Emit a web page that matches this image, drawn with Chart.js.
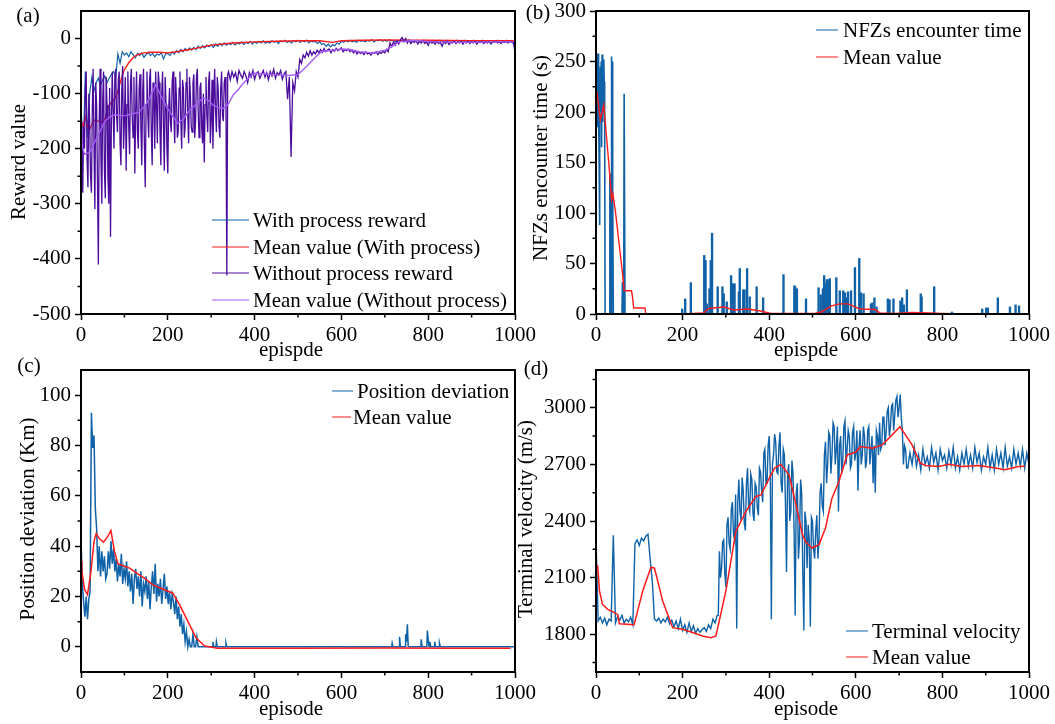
<!DOCTYPE html>
<html>
<head>
<meta charset="utf-8">
<script src="https://cdn.jsdelivr.net/npm/chart.js@4.4.1/dist/chart.umd.min.js"></script>
<style>
  html, body { margin: 0; padding: 0; background: #fff; }
  body { width: 1055px; height: 724px; position: relative; overflow: hidden;
         font-family: 'Liberation Serif', 'Times New Roman', serif; font-size: 21px; color: #000; }
  canvas { position: absolute; }
  .t  { position: absolute; white-space: nowrap; line-height: 1; transform: translate(-50%, -50%); }
  .r  { position: absolute; white-space: nowrap; line-height: 1; transform: translate(-50%, -50%) rotate(-90deg); }
  .lg { position: absolute; white-space: nowrap; line-height: 1; transform: translateY(-50%); }
  .ln { position: absolute; height: 0; border-top: 1.6px solid; transform: translateY(-50%); }
</style>
</head>
<body>
<canvas id="chartA" width="555" height="372" style="left:0;top:-10px"></canvas>
<canvas id="chartB" width="535" height="372" style="left:520px;top:-10px"></canvas>
<canvas id="chartC" width="555" height="379" style="left:0;top:345px"></canvas>
<canvas id="chartD" width="535" height="379" style="left:520px;top:345px"></canvas>

<!-- panel letters -->
<div class="t" style="left:28px;top:15px">(a)</div>
<div class="t" style="left:538px;top:12px">(b)</div>
<div class="t" style="left:29px;top:365px">(c)</div>
<div class="t" style="left:536px;top:368px">(d)</div>

<!-- axis titles -->
<div class="r" style="left:18px;top:162px">Reward value</div>
<div class="r" style="left:540px;top:158px">NFZs encounter time (s)</div>
<div class="r" style="left:27px;top:519px">Position deviation (Km)</div>
<div class="r" style="left:525px;top:519px">Terminal velocity (m/s)</div>
<div class="t" style="left:291px;top:349px">epispde</div>
<div class="t" style="left:806px;top:349px">epispde</div>
<div class="t" style="left:291px;top:708px">episode</div>
<div class="t" style="left:806px;top:708px">episode</div>

<!-- legends -->
<div class="ln" style="left:212px;top:220px;width:37px;border-color:#0f62a8"></div>
<div class="lg" style="left:253px;top:220px">With process reward</div>
<div class="ln" style="left:212px;top:247px;width:37px;border-color:#ff1a1a"></div>
<div class="lg" style="left:253px;top:247px">Mean value (With process)</div>
<div class="ln" style="left:212px;top:273px;width:37px;border-color:#4b0c9c"></div>
<div class="lg" style="left:253px;top:273px">Without process reward</div>
<div class="ln" style="left:212px;top:300px;width:37px;border-color:#a55cf7"></div>
<div class="lg" style="left:253px;top:300px">Mean value (Without process)</div>

<div class="ln" style="left:816px;top:30px;width:22px;border-color:#0f62a8"></div>
<div class="lg" style="left:843px;top:30px">NFZs encounter time</div>
<div class="ln" style="left:816px;top:57px;width:22px;border-color:#ff1a1a"></div>
<div class="lg" style="left:843px;top:57px">Mean value</div>

<div class="ln" style="left:332px;top:391px;width:21px;border-color:#0f62a8"></div>
<div class="lg" style="left:357px;top:391px">Position deviation</div>
<div class="ln" style="left:332px;top:417px;width:19px;border-color:#ff1a1a"></div>
<div class="lg" style="left:353px;top:417px">Mean value</div>

<div class="ln" style="left:846px;top:631px;width:22px;border-color:#0f62a8"></div>
<div class="lg" style="left:872px;top:631px">Terminal velocity</div>
<div class="ln" style="left:846px;top:657px;width:22px;border-color:#ff1a1a"></div>
<div class="lg" style="left:872px;top:657px">Mean value</div>

<script>
// ── Data ───────────────────────────────────────────────────────────────────

const xMajor = [0, 200, 400, 600, 800, 1000];
const xMinor = [100, 300, 500, 700, 900];

// (a) reward, with process reward: one value every 5 episodes from 0
const aWithValues = [
  -120,-210,-60,-180,-100,-70,-95,-80,-72,-85,
  -75,-68,-80,-72,-65,-60,-70,-28,-45,-24,
  -30,-26,-33,-24,-29,-35,-27,-31,-26,-34,
  -29,-25,-31,-27,-33,-28,-30,-26,-37,-28,
  -27,-31,-24,-28,-22,-26,-20,-24,-18,-22,
  -17,-21,-16,-20,-14,-18,-13,-17,-12,-15,
  -11,-16,-10,-14,-9,-13,-8,-12,-9,-11,
  -7,-12,-8,-10,-6,-11,-7,-9,-5,-10,
  -6,-9,-5,-8,-4,-9,-6,-8,-4,-7,
  -5,-9,-4,-6,-3,-7,-5,-8,-4,-6,
  -3,-7,-4,-6,-3,-8,-4,-6,-5,-9,
  -6,-11,-9,-14,-10,-15,-11,-13,-8,-10,
  -5,-7,-4,-6,-3,-6,-4,-7,-3,-5,
  -4,-6,-3,-5,-2,-6,-3,-4,-2,-5,
  -3,-5,-2,-4,-3,-6,-4,-5,-3,-6,
  -4,-3,-7,-4,-5,-3,-6,-4,-5,-3,
  -6,-4,-8,-4,-5,-3,-6,-4,-7,-3,
  -5,-4,-6,-3,-5,-4,-7,-3,-5,-4,
  -6,-3,-5,-4,-7,-3,-6,-4,-5,-10,
  -4,-6,-3,-5,-4,-7,-3,-6,-4,-8,
  -5
];
// (a) reward, without process reward: every 2 episodes for 0..340, then every 4 for 344..1000
const aWithoutEarly = [
  -150,-230,-280,-160,-200,-90,-60,-220,-270,-100,
  -150,-250,-280,-130,-55,-200,-310,-80,-120,-260,
  -410,-150,-55,-220,-300,-110,-60,-240,-290,-70,
  -120,-250,-300,-90,-360,-150,-60,-130,-200,-70,
  -55,-140,-170,-75,-60,-190,-230,-90,-50,-200,
  -150,-70,-240,-120,-60,-160,-210,-80,-55,-140,
  -180,-70,-245,-130,-60,-170,-200,-90,-65,-160,
  -230,-100,-55,-190,-270,-120,-60,-140,-180,-75,
  -55,-170,-230,-80,-110,-200,-60,-120,-190,-60,
  -80,-170,-230,-100,-60,-160,-240,-70,-120,-200,
  -245,-130,-90,-150,-170,-80,-60,-140,-190,-70,
  -110,-180,-170,-90,-60,-150,-200,-75,-90,-180,
  -160,-80,-55,-140,-190,-70,-100,-160,-170,-80,
  -65,-180,-150,-70,-55,-130,-180,-90,-80,-160,
  -190,-100,-225,-120,-70,-140,-170,-80,-60,-190,
  -150,-75,-200,-110,-55,-130,-170,-70,-90,-160,
  -180,-90,-60,-140,-150,-80,-70,-120,-430,-65,
  -60
];
const aWithoutLate = [
  -75,-60,-70,-62,
  -78,-58,-66,-72,-60,-68,-80,-62,-70,-58,
  -74,-64,-60,-72,-65,-58,-70,-62,-75,-60,
  -68,-56,-72,-62,-66,-58,-74,-64,-60,-110,
  -70,-215,-80,-95,-60,-70,-38,-45,-30,-35,
  -25,-32,-22,-30,-24,-28,-21,-26,-20,-25,
  -18,-24,-21,-19,-26,-20,-23,-18,-22,-20,
  -17,-24,-20,-22,-19,-24,-21,-26,-22,-28,
  -24,-27,-25,-29,-24,-28,-26,-30,-25,-27,
  -24,-29,-25,-27,-23,-26,-20,-24,-8,-15,
  -6,-12,-4,-10,-2,2,-5,0,-8,-3,
  -9,-5,-7,-4,-10,-5,-8,-4,-9,-6,
  -12,-5,-8,-6,-10,-5,-9,-7,-14,-6,
  -9,-5,-11,-7,-8,-5,-9,-6,-8,-5,
  -10,-6,-8,-5,-9,-6,-8,-5,-10,-6,
  -7,-5,-9,-6,-8,-5,-9,-6,-7,-5,
  -8,-6,-9,-5,-7,-6,-8,-5,-7,-6,
  -25
];
const aWithMeanEp  = [0,5,10,15,20,30,40,50,56,63,70,79,85,91,99,110,122,135,146,160,180,200,220,250,275,300,350,400,450,500,550,580,600,650,700,750,800,900,1000];
const aWithMeanVal = [-150,-160,-142,-160,-165,-148,-150,-152,-145,-124,-116,-108,-95,-78,-58,-44,-33,-28,-26,-25,-25,-26,-24,-20,-16,-12,-8,-6,-5,-4,-4,-7,-4,-3,-2.5,-3,-3,-4,-4];
const aWithoutMeanEp  = [0,3,8,15,22,30,40,55,65,79,90,102,120,133,149,160,172,185,195,210,223,237,250,265,281,295,304,316,328,340,351,363,374,386,398,420,450,480,500,510,523,540,554,580,601,620,640,671,702,715,733,764,810,872,950,1000];
const aWithoutMeanVal = [-130,-195,-210,-208,-205,-190,-175,-150,-143,-138,-140,-140,-136,-134,-121,-105,-84,-105,-121,-140,-154,-145,-130,-120,-108,-113,-121,-125,-127,-118,-102,-92,-81,-72,-63,-64,-66,-67,-65,-58,-48,-34,-24,-21,-19,-20,-24,-26,-21,-15,-6,-3.5,-5.5,-7,-6,-6];

// (b) NFZs encounter time
const bEarlyEp  = [0,1,2,3,4,5,6,7,8,9,10,11,12,13,14,15,16,17,18,19,20,21,31,32,34,35,36,37,38,39,40,60,61,63,64,65,66,67];
const bEarlyVal = [210,258,190,255,185,258,200,160,88,210,245,200,250,165,257,190,228,200,252,230,190,0,0,138,138,0,255,220,250,125,0,0,31,31,0,218,218,0];
const bSpikeEp  = [199,206,219,250,253,256,262,265,268,281,292,295,302,312,316,320,330,332,340,343,349,355,371,386,433,458,460,464,485,514,519,524,527,530,533,536,540,555,563,571,575,578,582,589,598,608,612,618,635,638,643,648,674,678,687,703,707,711,718,750,752,781,822,892,901,905,928,956,969,977];
const bSpikeVal = [5,15,31,58,53,10,25,53,80,27,27,20,12,38,30,30,22,45,24,24,45,17,27,16,39,28,27,25,15,26,19,25,38,30,34,34,35,36,23,23,21,16,22,23,46,55,21,20,10,11,16,7,15,14,15,13,16,9,24,20,17,27,2,5,6,6,16,7,9,8];
const bMeanEp  = [2,10,18,24,30,36,39,45,53,61,65,82,84,87,113,115,200,248,260,295,318,349,380,404,458,505,520,544,563,582,598,610,645,656,691,730,769,800,847,1000];
const bMeanVal = [220,192,207,177,147,113,119,101,71,41,23,23,18,6,6,0,0,1,5.5,7,4,5,3,0.5,0.5,0.5,2,8,10,10,7,5,4.5,1,0.5,1.5,1,0.5,0,0];

// (c) position deviation: every 3 episodes for 0..300, then the sparse tail
const cDevValues = [
  43,25,18,12,20,11,19,22,93,79,
  84,55,47,30,40,28,38,30,36,27,
  29,38,31,42,33,39,30,35,26,33,
  28,37,25,31,27,34,24,30,22,29,
  17,27,31,23,28,20,30,16,25,22,
  28,19,26,15,24,30,21,33,18,25,
  20,27,17,23,29,19,24,17,22,15,
  21,18,13,20,11,16,8,13,5,9,
  2,6,0,3,0,0,5,0,0,4,
  0,0,0,0,0,0,0,0,0,0,
  0
];
const cDevTailEp  = [303,304,306,311,312,314,333,334,336,716,717,719,733,734,736,747,748,750,752,754,783,784,786,797,798,800,802,804,806,814,815,817,825,826,828,1000];
const cDevTailVal = [0,2,0,0,2,0,0,1.5,0,0,1.5,0,0,4,0,0,5,2,9,0,0,3,0,0,6.5,3,0,2,0,0,2,0,0,1.5,0,0];
const cMeanEp  = [0,2,8,15,23,30,35,42,52,62,69,77,85,100,112,131,146,165,192,211,227,246,265,285,315,500,700,850,990];
const cMeanVal = [34,30,23,20.7,30,42,45,43,41.6,44,46.2,38,33,32,31.3,29,27.3,24.7,22.7,21.4,16.8,10.2,3.6,0.3,-0.6,-0.6,-0.5,-0.6,-0.6];

// (d) terminal velocity: every 5 episodes for 0..280, every 2.5 for 282.5..720, every 5 for 725..1000
const dVelEarly = [
  2300,1870,1890,1860,1885,1850,1880,1870,2325,1860,
  1895,1875,1900,1860,1880,1865,1890,1850,2280,2300,
  2270,2310,2295,2320,2330,2200,2080,1880,1870,1885,
  1860,1880,1865,1890,1855,1875,1840,1870,1830,1880,
  1820,1850,1810,1860,1815,1845,1805,1830,1810,1825,
  1835,1815,1850,1830,1880,1860,1900
];
const dVelMid = [
  1900,2240,2100,2150,2290,2300,2120,2050,2380,2420,
  2280,2250,2460,2500,2330,2300,2540,1830,2500,2620,
  2450,2400,2630,2560,2390,2350,2600,2680,2480,2450,
  2650,2620,2440,2400,2600,2580,2470,2430,2680,2660,
  2560,2500,2760,2780,2600,2600,2800,2850,2650,1880,
  2700,2750,2860,2820,2660,2650,2800,2870,2600,2550,
  2780,2750,2500,2130,2650,2700,2400,2450,2720,2650,
  2350,1900,2550,2600,2200,2300,2620,2550,2150,1820,
  2450,2400,2150,2380,2300,1840,2420,2400,2250,2200,
  2350,2430,2200,2300,2550,2600,2480,2450,2750,2820,
  2600,2700,2870,2850,2650,2750,2920,2900,2700,2780,
  2900,2450,2800,2850,2650,2720,2900,2930,2700,2780,
  2880,2850,2680,2700,2870,2900,2720,2760,2880,2560,
  2800,2880,2700,2750,2900,2850,2680,2720,2880,2900,
  2700,2780,2850,2600,2800,2550,2880,2850,2750,2920,
  2780,2800,2950,2950,2800,2870,2980,3000,2850,2900,
  3010,3020,2880,2960,3040,3060,2950,3000,3070,2950,
  2880,2700,2800,2780,2680,2680
];
const dVelLate = [
  2760,2700,2790,2690,2750,
  2670,2780,2700,2740,2680,2790,2710,2760,2670,2780,
  2720,2750,2680,2770,2700,2790,2680,2740,2670,2760,
  2700,2780,2690,2750,2680,2790,2710,2760,2670,2740,
  2700,2790,2680,2750,2670,2780,2700,2760,2680,2790,
  2690,2740,2680,2780,2700,2760,2690,2780,2680,2760,
  2700
];
const dMeanEp  = [0,4,8,15,27,38,50,54,88,108,127,135,154,177,200,223,246,265,277,300,323,346,369,381,400,412,427,446,462,477,484,499,515,530,545,561,580,599,611,638,661,680,702,730,749,761,792,815,845,884,915,945,976,990];
const dMeanVal = [2170,2160,2030,1958,1932,1920,1905,1856,1850,2030,2155,2150,1976,1835,1826,1809,1791,1782,1791,2030,2345,2450,2529,2538,2626,2679,2700,2643,2485,2327,2290,2257,2275,2363,2521,2609,2750,2764,2794,2785,2803,2847,2900,2803,2706,2694,2689,2701,2689,2694,2683,2671,2689,2690];

// ── Style ──────────────────────────────────────────────────────────────────

const FONT         = "'Liberation Serif', 'Times New Roman', serif";
const BLUE         = '#0f62a8';
const RED          = '#ff1a1a';
const DARK_PURPLE  = '#4b0c9c';
const LIGHT_PURPLE = '#a55cf7';

const pairs   = (xs, ys) => ys.map((y, i) => ({ x: xs[i], y }));
const stepped = (start, step, ys) => ys.map((y, i) => ({ x: start + i * step, y }));

function line(data, color, width, order) {
    return { data, borderColor: color, backgroundColor: color, borderWidth: width,
             pointRadius: 0, fill: false, tension: 0, order };
}

// frame round the plot area plus the short minor ticks
const framePlugin = {
    id: 'frame',
    afterDraw(chart, args, opts) {
        const { ctx, chartArea: a, scales } = chart;
        ctx.save();
        ctx.strokeStyle = '#000';
        ctx.lineWidth = 1.5;
        ctx.beginPath();
        (opts.minorX || []).forEach(v => {
            const px = scales.x.getPixelForValue(v);
            ctx.moveTo(px, a.bottom); ctx.lineTo(px, a.bottom + 3.5);
        });
        (opts.minorY || []).forEach(v => {
            const py = scales.y.getPixelForValue(v);
            ctx.moveTo(a.left, py); ctx.lineTo(a.left - 3.5, py);
        });
        ctx.stroke();
        ctx.lineWidth = 2;
        ctx.strokeRect(a.left, a.top, a.right - a.left, a.bottom - a.top);
        ctx.restore();
    },
};

function makePanel(id, cfg) {
    const tickFont = { family: FONT, size: 21 };
    const grid = { display: true, drawOnChartArea: false, drawTicks: true, tickLength: 6,
                   tickWidth: 1.5, tickColor: '#000', offset: false };
    return new Chart(document.getElementById(id), {
        type: 'line',
        data: { datasets: cfg.datasets },
        options: {
            responsive: false,
            animation: false,
            events: [],
            layout: { padding: cfg.padding },
            plugins: {
                legend: { display: false },
                tooltip: { enabled: false },
                frame: { minorX: xMinor, minorY: cfg.minorY },
            },
            scales: {
                x: {
                    type: 'linear', min: 0, max: 1000, offset: false,
                    afterBuildTicks: s => { s.ticks = xMajor.map(v => ({ value: v })); },
                    afterFit: s => { s.height = cfg.xAxisH; },
                    ticks: { color: '#000', font: tickFont, padding: 3, maxRotation: 0, autoSkip: false,
                             callback: v => String(v) },
                    grid, border: { display: false },
                },
                y: {
                    type: 'linear', min: cfg.yMin, max: cfg.yMax,
                    afterBuildTicks: s => { s.ticks = cfg.yTicks.map(v => ({ value: v })); },
                    afterFit: s => { s.width = cfg.yAxisW; },
                    ticks: { color: '#000', font: tickFont, padding: 4, autoSkip: false,
                             callback: v => String(v) },
                    grid, border: { display: false },
                },
            },
        },
        plugins: [framePlugin],
    });
}

// ── Panels ─────────────────────────────────────────────────────────────────

makePanel('chartA', {
    padding: { left: 0, top: 21, right: 40, bottom: 0 }, yAxisW: 81, xAxisH: 48,
    yMin: -500, yMax: 50, yTicks: [-500, -400, -300, -200, -100, 0],
    minorY: [-450, -350, -250, -150, -50],
    datasets: [
        line(stepped(0, 5, aWithValues), BLUE, 1.2, 4),
        line(pairs(aWithMeanEp, aWithMeanVal), RED, 1.4, 3),
        line(stepped(0, 2, aWithoutEarly).concat(stepped(344, 4, aWithoutLate)), DARK_PURPLE, 1.3, 2),
        line(pairs(aWithoutMeanEp, aWithoutMeanVal), LIGHT_PURPLE, 1.4, 1),
    ],
});

makePanel('chartB', {
    padding: { left: 0, top: 21, right: 26, bottom: 0 }, yAxisW: 76, xAxisH: 48,
    yMin: 0, yMax: 300, yTicks: [0, 50, 100, 150, 200, 250, 300],
    minorY: [25, 75, 125, 175, 225, 275],
    datasets: [
        line(pairs(bEarlyEp, bEarlyVal), BLUE, 1.6, 3),
        { type: 'bar', data: pairs(bSpikeEp, bSpikeVal), backgroundColor: BLUE,
          barThickness: 1.7, grouped: false, order: 2 },
        line(pairs(bMeanEp, bMeanVal), RED, 1.4, 1),
    ],
});

makePanel('chartC', {
    padding: { left: 0, top: 25, right: 40, bottom: 0 }, yAxisW: 81, xAxisH: 52,
    yMin: -10, yMax: 110, yTicks: [0, 20, 40, 60, 80, 100],
    minorY: [10, 30, 50, 70, 90],
    datasets: [
        line(stepped(0, 3, cDevValues).concat(pairs(cDevTailEp, cDevTailVal)), BLUE, 1.5, 2),
        line(pairs(cMeanEp, cMeanVal), RED, 1.5, 1),
    ],
});

makePanel('chartD', {
    padding: { left: 0, top: 25, right: 26, bottom: 0 }, yAxisW: 76, xAxisH: 52,
    yMin: 1600, yMax: 3200, yTicks: [1800, 2100, 2400, 2700, 3000],
    minorY: [1650, 1950, 2250, 2550, 2850, 3150],
    datasets: [
        line(stepped(0, 5, dVelEarly).concat(stepped(282.5, 2.5, dVelMid), stepped(725, 5, dVelLate)), BLUE, 1.4, 2),
        line(pairs(dMeanEp, dMeanVal), RED, 1.5, 1),
    ],
});
</script>
</body>
</html>
